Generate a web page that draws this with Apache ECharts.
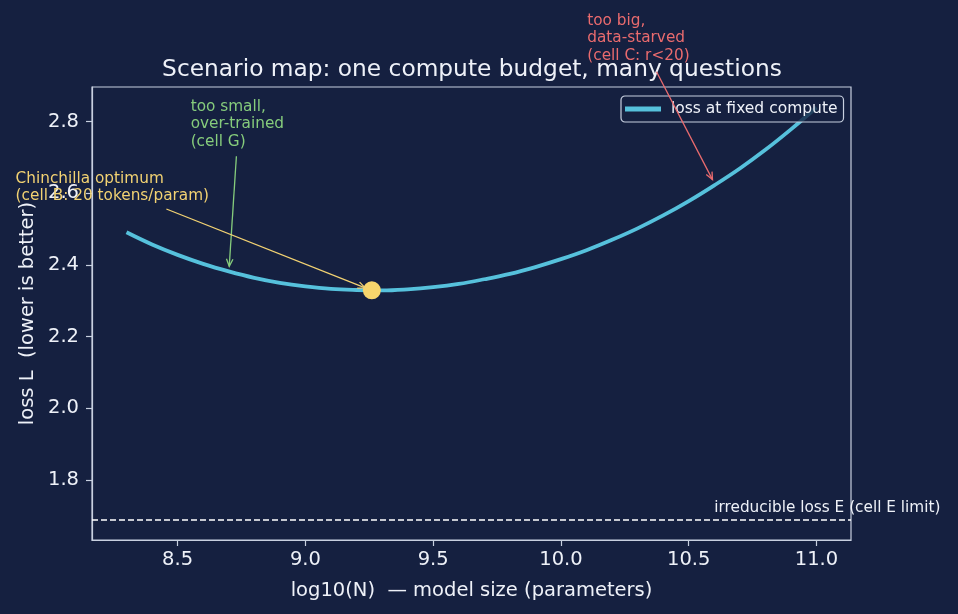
<!DOCTYPE html>
<html>
<head>
<meta charset="utf-8">
<script src="https://cdn.jsdelivr.net/npm/echarts@6/dist/echarts.min.js"></script>
<style>
  html, body { margin: 0; padding: 0; background: #152040; }
  #chart { width: 958px; height: 614px; }
</style>
</head>
<body>
<div id="chart"></div>
<script>
const logN = [8.3, 8.4, 8.5, 8.6, 8.7, 8.8, 8.9, 9.0, 9.1, 9.2, 9.3, 9.4, 9.5, 9.6,
  9.7, 9.8, 9.9, 10.0, 10.1, 10.2, 10.3, 10.4, 10.5, 10.6, 10.7, 10.8, 10.9, 11.0];
const loss = [2.491, 2.457, 2.428, 2.403, 2.382, 2.364, 2.350, 2.340, 2.333, 2.330,
  2.329, 2.332, 2.338, 2.347, 2.360, 2.375, 2.394, 2.416, 2.441, 2.470, 2.502,
  2.538, 2.578, 2.622, 2.669, 2.721, 2.778, 2.839];
const optimum = [9.26, 2.329];
const irreducibleE = 1.69;
const xTicks = [8.5, 9.0, 9.5, 10.0, 10.5, 11.0];
const yTicks = [1.8, 2.0, 2.2, 2.4, 2.6, 2.8];

// annotations (data coordinates): text block top-left, arrow tail, arrow head
const noteTexts = ['too small,\nover-trained\n(cell G)',
  'Chinchilla optimum\n(cell B: 20 tokens/param)',
  'too big,\ndata-starved\n(cell C: r<20)'];
const noteAnchors = [[8.551, 2.866], [7.866, 2.665], [10.103, 3.106]];
const arrowTails = [[8.730, 2.703], [8.456, 2.556], [10.374, 2.939]];
const arrowHeads = [[8.702, 2.396], [9.234, 2.336], [10.593, 2.638]];
const noteColors = ['#86cc7c', '#f2d272', '#ea6b6e'];
const eLabel = 'irreducible loss E (cell E limit)';
const eLabelAt = 10.6;

const FONT = 'DejaVu Sans';
const frameColor = '#c8d0e0';
const textColor = '#eef1f8';

const chart = echarts.init(document.getElementById('chart'));

const option = {
  backgroundColor: '#152040',
  animation: false,
  title: {
    text: 'Scenario map: one compute budget, many questions',
    left: 467,
    textAlign: 'center',
    top: 53,
    textStyle: { color: textColor, fontSize: 23.3, fontWeight: 'normal', fontFamily: FONT }
  },
  legend: {
    data: ['loss at fixed compute'],
    left: 621,
    top: 96,
    icon: 'rect',
    itemWidth: 36,
    itemHeight: 5,
    padding: [5, 6, 5, 4],
    backgroundColor: 'rgba(21,32,64,0.8)',
    borderColor: frameColor,
    borderWidth: 1.2,
    borderRadius: 4,
    textStyle: { color: textColor, fontSize: 15.5, fontFamily: FONT, padding: [0, 0, 0, 5] }
  },
  grid: {
    left: 92, right: 107, top: 87, bottom: 74,
    show: true, borderColor: frameColor, borderWidth: 1.2,
    backgroundColor: 'transparent'
  },
  xAxis: {
    type: 'value',
    min: 8.165,
    max: 11.135,
    name: 'log10(N)  — model size (parameters)',
    nameLocation: 'middle',
    nameGap: 41,
    nameTextStyle: { color: textColor, fontSize: 19.5, fontFamily: FONT },
    axisLine: { show: true, lineStyle: { color: frameColor, width: 1.2 } },
    axisTick: { show: true, customValues: xTicks, length: 6, lineStyle: { color: frameColor, width: 1.2 } },
    axisLabel: {
      customValues: xTicks, margin: 10, color: textColor, fontSize: 19.5, fontFamily: FONT,
      formatter: v => v.toFixed(1)
    },
    splitLine: { show: false }
  },
  yAxis: {
    type: 'value',
    min: 1.6326,
    max: 2.8963,
    name: 'loss L  (lower is better)',
    nameLocation: 'middle',
    nameGap: 54,
    nameMoveOverlap: false,
    nameTextStyle: { color: textColor, fontSize: 19.5, fontFamily: FONT },
    axisLine: { show: true, lineStyle: { color: frameColor, width: 1.2 } },
    axisTick: { show: true, customValues: yTicks, length: 6, lineStyle: { color: frameColor, width: 1.2 } },
    axisLabel: {
      customValues: yTicks, margin: 13, color: textColor, fontSize: 19.5, fontFamily: FONT,
      formatter: v => v.toFixed(1)
    },
    splitLine: { show: false }
  },
  series: [
    {
      name: 'loss at fixed compute',
      type: 'line',
      data: logN.map((x, i) => [x, loss[i]]),
      color: '#56c1dc',
      showSymbol: false,
      smooth: 0.4,
      lineStyle: { width: 3.8, color: '#56c1dc' },
      z: 3,
      markLine: {
        silent: true,
        symbol: ['none', 'none'],
        label: { show: false },
        lineStyle: { color: '#ffffff', type: [6, 3], width: 1.5 },
        data: [{ yAxis: irreducibleE }]
      }
    },
    {
      name: 'optimum',
      type: 'scatter',
      data: [optimum],
      symbolSize: 18,
      itemStyle: { color: '#f7d56c', opacity: 1 },
      z: 5
    }
  ]
};

chart.setOption(option);

// annotations placed through the chart's own scales
function arrowParts(p0, p1, color) {
  const ang = Math.atan2(p1[1] - p0[1], p1[0] - p0[0]);
  const len = 8, a = 0.42;
  const h1 = [p1[0] - len * Math.cos(ang - a), p1[1] - len * Math.sin(ang - a)];
  const h2 = [p1[0] - len * Math.cos(ang + a), p1[1] - len * Math.sin(ang + a)];
  return [
    { type: 'line', z: 20, shape: { x1: p0[0], y1: p0[1], x2: p1[0], y2: p1[1] },
      style: { stroke: color, lineWidth: 1.3 } },
    { type: 'polyline', z: 20, shape: { points: [h1, p1, h2] },
      style: { stroke: color, lineWidth: 1.3, fill: null } }
  ];
}

const graphics = [];
noteTexts.forEach((t, i) => {
  const at = chart.convertToPixel({ gridIndex: 0 }, noteAnchors[i]);
  graphics.push({
    type: 'text', z: 19, x: at[0], y: at[1],
    style: { text: t, fill: noteColors[i], font: '15.3px "' + FONT + '"', lineHeight: 17.5,
      align: 'left', verticalAlign: 'top' }
  });
  const p0 = chart.convertToPixel({ gridIndex: 0 }, arrowTails[i]);
  const p1 = chart.convertToPixel({ gridIndex: 0 }, arrowHeads[i]);
  graphics.push(...arrowParts(p0, p1, noteColors[i]));
});
const ePos = chart.convertToPixel({ gridIndex: 0 }, [eLabelAt, irreducibleE]);
graphics.push({
  type: 'text', z: 19, x: ePos[0], y: ePos[1] - 4,
  style: { text: eLabel, fill: '#eef1f8', font: '15.3px "' + FONT + '"',
    align: 'left', verticalAlign: 'bottom' }
});

chart.setOption({ graphic: graphics });
</script>
</body>
</html>
